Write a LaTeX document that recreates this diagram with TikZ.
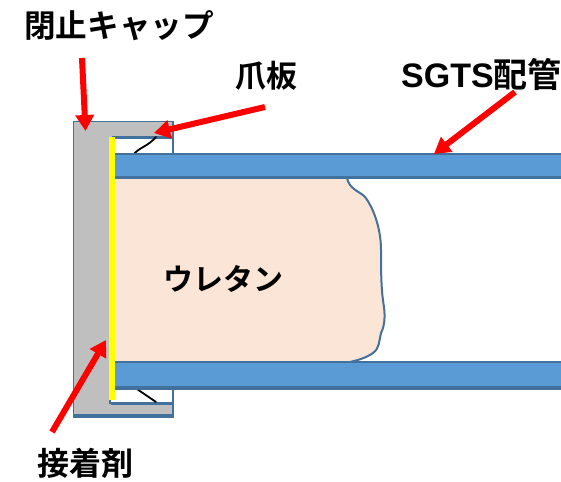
\documentclass[tikz,border=0pt]{standalone}
\usepackage{fontspec}
\setmainfont{Liberation Sans}
\newfontfamily\jpfont{Noto Sans CJK JP}[BoldFont={Noto Sans CJK JP Bold}]
\usetikzlibrary{arrows.meta}
\definecolor{edgeblue}{HTML}{41719C}
\definecolor{pipeblue}{HTML}{5B9BD5}
\definecolor{capgray}{HTML}{BFBFBF}
\definecolor{foam}{HTML}{FBE5D6}
\definecolor{pure}{HTML}{FFFF00}
\tikzset{
  redarrow/.style={draw=red,line width=6pt,-{Triangle[length=16pt,width=18pt]}},
  pipe/.style={fill=pipeblue,draw=edgeblue,line width=1.6pt},
  capshape/.style={fill=capgray,draw=edgeblue,line width=1.4pt},
  claw/.style={draw=black,line width=1.8pt},
  label/.style={inner sep=0pt,anchor=west,font=\bfseries\fontsize{32}{34}\selectfont},
  foamedge/.style={draw=edgeblue,line width=2pt}
}
\begin{document}
\begin{tikzpicture}[x=1pt,y=-1pt]
\useasboundingbox (0,0) rectangle (561,481);
% cap
\draw[capshape] (73.5,121.5) -- (173,121.5) -- (173,153) -- (173,137.5) -- (110,137.5) -- (110,403) -- (173,403) -- (173,388) -- (173,416.5) -- (73.5,416.5) -- cycle;
\draw[edgeblue,line width=3pt] (111,403) -- (173.7,403);
\draw[edgeblue,line width=3pt] (112,138) -- (173.7,138);
\draw[edgeblue,line width=3.6pt] (73,416) -- (174,416);
% claws
\draw[claw,line cap=round] (134,154) .. controls (140,147) and (147,147) .. (156,137);
\draw[claw,line cap=round] (134,387) -- (156,402);
% urethane
\fill[foam] (113,177) -- (347,177) .. controls (348,189) and (361,192) .. (365,197)
  .. controls (373,207) and (381,228) .. (381,250)
  .. controls (381,270) and (381,290) .. (384,307)
  .. controls (385,316) and (385,325) .. (381,333)
  .. controls (379,340) and (380,348) .. (373,353)
  .. controls (366,358) and (358,360) .. (350,362) -- (113,362) -- cycle;
\draw[foamedge] (347,177) .. controls (348,189) and (361,192) .. (365,197)
  .. controls (373,207) and (381,228) .. (381,250)
  .. controls (381,270) and (381,290) .. (384,307)
  .. controls (385,316) and (385,325) .. (381,333)
  .. controls (379,340) and (380,348) .. (373,353)
  .. controls (366,358) and (358,360) .. (350,362);
% pipes
\draw[pipe] (114,154) rectangle (562,177);
\draw[pipe] (114,362) rectangle (562,387.5);
\draw[edgeblue,line width=2.6pt] (114,177.5) -- (561,177.5);
\draw[edgeblue,line width=2.6pt] (114,362) -- (561,362);
\draw[edgeblue,line width=3.4pt] (114,388) -- (561,388);
% adhesive
\fill[pure] (109,137) rectangle (114.5,400);
% labels
\node[label,font=\bfseries\fontsize{31.6}{34}\selectfont] (capl) at (24,26) {\jpfont 閉止キャップ};
\node[label,font=\bfseries\fontsize{31}{33}\selectfont] (claw) at (235,76) {\jpfont 爪板};
\node[label,font=\bfseries\fontsize{34}{36}\selectfont] (sgts) at (401,74) {SGTS\fontsize{34}{36}\selectfont\jpfont 配管};
\node[label,font=\bfseries\fontsize{30}{32}\selectfont] (uret) at (163,279) {\jpfont ウレタン};
\node[label] (adh) at (37,463) {\jpfont 接着剤};
% arrows
\coordinate (a1s) at (82,58); \coordinate (a1e) at (85.5,131);
\coordinate (a2s) at (265,107); \coordinate (a2e) at (154,133);
\coordinate (a3s) at (515,92); \coordinate (a3e) at (434,154);
\coordinate (a4s) at (52,432); \coordinate (a4e) at (106,340);
\draw[redarrow] (a1s) -- (a1e);
\draw[redarrow] (a2s) -- (a2e);
\draw[redarrow] (a3s) -- (a3e);
\draw[redarrow] (a4s) -- (a4e);
\end{tikzpicture}
\end{document}
